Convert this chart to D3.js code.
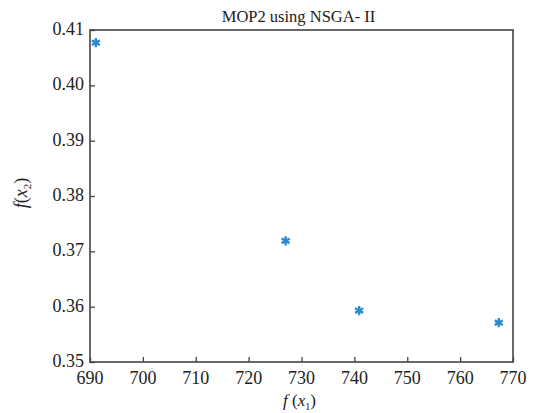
<!DOCTYPE html>
<html>
<head>
<meta charset="utf-8">
<script src="https://cdn.jsdelivr.net/npm/d3@7"></script>
<style>
  html, body { margin: 0; padding: 0; background: #fff; }
  svg text { font-family: "Liberation Serif", "Times New Roman", serif; fill: #222; }
</style>
</head>
<body>
<div id="chart"></div>
<script>
// data
const f1 = [691.1, 727.0, 740.9, 767.3];
const f2 = [0.4077, 0.3719, 0.3593, 0.3571];
const xTicks = [690, 700, 710, 720, 730, 740, 750, 760, 770];
const yTicks = [0.35, 0.36, 0.37, 0.38, 0.39, 0.40, 0.41];
const title = 'MOP2 using NSGA- II';

(function () {
  const W = 534, H = 413;
  const margin = { top: 30, right: 21, bottom: 51, left: 90 };
  const iw = W - margin.left - margin.right;
  const ih = H - margin.top - margin.bottom;

  const svg = d3.select('#chart').append('svg')
    .attr('width', W).attr('height', H);
  const g = svg.append('g').attr('transform', `translate(${margin.left},${margin.top})`);

  const x = d3.scaleLinear().domain([690, 770]).range([0, iw]);
  const y = d3.scaleLinear().domain([0.35, 0.41]).range([ih, 0]);

  // box
  g.append('rect')
    .attr('width', iw).attr('height', ih)
    .attr('fill', 'none').attr('stroke', '#444').attr('stroke-width', 1.6);

  // axes: ticks inward, labels drawn separately (serif)
  const gx = g.append('g').attr('transform', `translate(0,${ih})`)
    .call(d3.axisBottom(x).tickValues(xTicks).tickSizeInner(-5).tickSizeOuter(0));
  const gy = g.append('g')
    .call(d3.axisLeft(y).tickValues(yTicks).tickSizeInner(-5).tickSizeOuter(0));

  [gx, gy].forEach(a => {
    a.select('.domain').remove();
    a.selectAll('.tick text').remove();
    a.selectAll('.tick line').attr('stroke', '#444').attr('stroke-width', 1.3);
  });

  g.append('g').selectAll('text').data(xTicks).join('text')
    .attr('x', d => x(d))
    .attr('y', ih + 22)
    .attr('text-anchor', 'middle')
    .attr('font-size', 18)
    .text(d => d);

  g.append('g').selectAll('text').data(yTicks).join('text')
    .attr('x', -6)
    .attr('y', d => y(d) + 5)
    .attr('text-anchor', 'end')
    .attr('font-size', 18)
    .text(d3.format('.2f'));

  // title
  svg.append('text')
    .attr('x', margin.left + iw / 2 - 3).attr('y', 22)
    .attr('text-anchor', 'middle').attr('font-size', 16.5)
    .text(title);

  // x label f(x1)
  const xl = svg.append('text')
    .attr('x', margin.left + iw / 2 - 2).attr('y', 406)
    .attr('text-anchor', 'middle').attr('font-size', 17);
  xl.append('tspan').attr('font-style', 'italic').text('f');
  xl.append('tspan').text(' (');
  xl.append('tspan').attr('font-style', 'italic').text('x');
  xl.append('tspan').attr('font-size', 10).attr('dy', 4).text('1');
  xl.append('tspan').attr('dy', -4).text(')');

  // y label f(x2)
  const yl = svg.append('text')
    .attr('transform', `translate(27,${margin.top + ih / 2 - 3}) rotate(-90)`)
    .attr('text-anchor', 'middle').attr('font-size', 18);
  yl.append('tspan').attr('font-style', 'italic').text('f');
  yl.append('tspan').text('(');
  yl.append('tspan').attr('font-style', 'italic').text('x');
  yl.append('tspan').attr('font-size', 11).attr('dy', 4).text('2');
  yl.append('tspan').attr('dy', -4).text(')');

  // asterisk markers
  const pts = f1.map((v, i) => ({ a: v, b: f2[i] }));
  const star = d3.symbol().type(d3.symbolAsterisk).size(60);
  g.append('g').selectAll('path').data(pts).join('path')
    .attr('transform', d => `translate(${x(d.a)},${y(d.b)})`)
    .attr('d', star)
    .attr('fill', 'none')
    .attr('stroke', '#2a8ccf')
    .attr('stroke-width', 2.4);
})();
</script>
</body>
</html>
